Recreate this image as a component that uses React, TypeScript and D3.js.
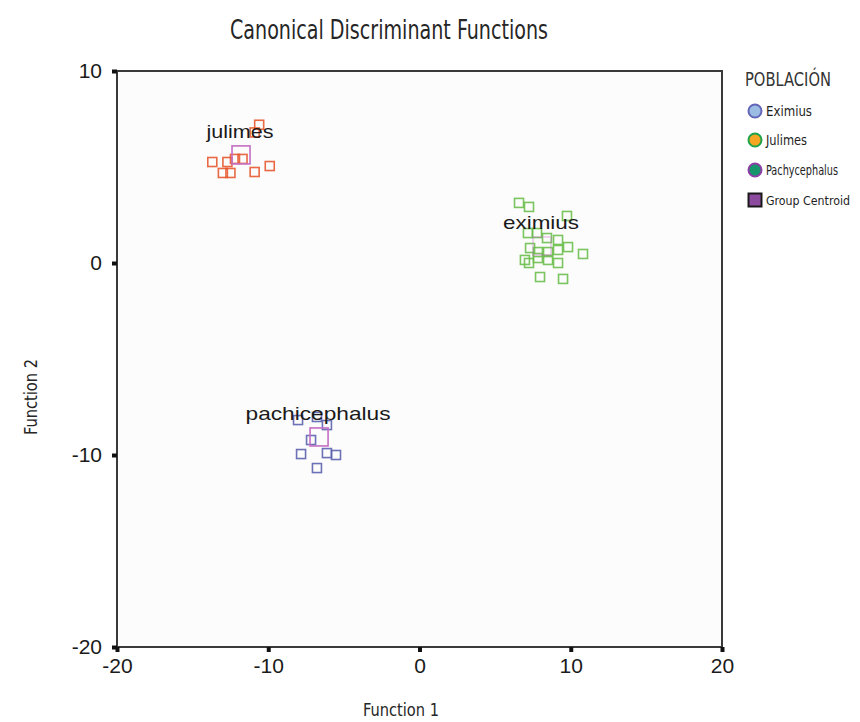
import { useEffect, useRef } from "react";
import * as d3 from "d3";

// ── data ─────────────────────────────────────────────────
const julimesX = [-10.6, -10.9, -13.7, -12.7, -12.2, -11.7, -13.0, -12.5, -10.9, -9.9];
const julimesY = [7.2, 6.8, 5.26, 5.26, 5.42, 5.42, 4.69, 4.69, 4.74, 5.05];
const eximiusX = [6.58, 7.24, 9.75, 7.17, 7.77, 8.43, 9.16, 9.82, 10.81, 7.31, 7.83, 8.5, 9.16, 6.97, 7.24, 7.83, 8.5, 9.16, 7.97, 9.49];
const eximiusY = [3.13, 2.92, 2.45, 1.56, 1.56, 1.3, 1.2, 0.83, 0.47, 0.78, 0.57, 0.57, 0.68, 0.16, 0.0, 0.26, 0.16, 0.0, -0.73, -0.83];
const pachiX = [-8.03, -6.78, -6.12, -7.17, -7.83, -6.12, -5.52, -6.78];
const pachiY = [-8.18, -8.02, -8.44, -9.22, -9.95, -9.9, -10.0, -10.68];

const groupNames = ["julimes", "eximius", "pachicephalus"];
const centroidX = [-11.8, 8.1, -6.64];
const centroidY = [5.63, 0.89, -9.06];
const groupColors = ["#e5592f", "#6cbf4e", "#5d62ad"];

const ticksX = [-20, -10, 0, 10, 20];
const ticksY = [10, 0, -10, -20];

const legendLabels = ["Eximius", "Julimes", "Pachycephalus", "Group Centroid"];

const COND = "'DejaVu Sans Condensed', sans-serif";
const SANS = "'Liberation Sans', Arial, sans-serif";

export default function App() {
  const ref = useRef<SVGSVGElement>(null);

  useEffect(() => {
    if (!ref.current) return;
    const svg = d3.select(ref.current);
    svg.selectAll("*").remove();

    const x = d3.scaleLinear().domain([-20, 20]).range([117, 722]);
    const y = d3.scaleLinear().domain([-20, 10]).range([647, 71]);

    svg.append("rect").attr("width", 860).attr("height", 722).attr("fill", "#ffffff");
    svg.append("rect")
      .attr("x", x(-20)).attr("y", y(10))
      .attr("width", x(20) - x(-20)).attr("height", y(-20) - y(10))
      .attr("fill", "#fcfcfc");

    // title
    svg.append("text")
      .attr("x", 389).attr("y", 39)
      .attr("text-anchor", "middle")
      .attr("font-family", COND).attr("font-size", 27)
      .attr("fill", "#262626")
      .attr("textLength", 318).attr("lengthAdjust", "spacingAndGlyphs")
      .text("Canonical Discriminant Functions");

    // points
    const groups = [
      { xs: julimesX, ys: julimesY },
      { xs: eximiusX, ys: eximiusY },
      { xs: pachiX, ys: pachiY },
    ];
    groups.forEach((grp, gi) => {
      svg.append("g").selectAll("rect")
        .data(grp.xs.map((v, i) => [v, grp.ys[i]]))
        .enter().append("rect")
        .attr("x", d => x(d[0]) - 4.5).attr("y", d => y(d[1]) - 4.5)
        .attr("width", 9).attr("height", 9)
        .attr("fill", "none")
        .attr("stroke", groupColors[gi])
        .attr("stroke-width", 1.6)
        .attr("opacity", 0.9);
    });

    // centroids
    svg.append("g").selectAll("rect")
      .data(centroidX.map((v, i) => [v, centroidY[i]]))
      .enter().append("rect")
      .attr("x", d => x(d[0]) - 9).attr("y", d => y(d[1]) - 9)
      .attr("width", 18).attr("height", 18)
      .attr("fill", "none")
      .attr("stroke", "#c46ec4")
      .attr("stroke-width", 1.6)
      .attr("opacity", (_, i) => (i === 1 ? 0.35 : 1));

    // group labels
    const labelW = [67, 76, 145];
    svg.append("g").selectAll("text")
      .data(groupNames)
      .enter().append("text")
      .attr("x", (_, i) => x(centroidX[i]) - 1)
      .attr("y", (_, i) => y(centroidY[i]) - 17)
      .attr("text-anchor", "middle")
      .attr("font-family", SANS).attr("font-size", 19)
      .attr("fill", "#1a1a1a")
      .attr("textLength", (_, i) => labelW[i]).attr("lengthAdjust", "spacingAndGlyphs")
      .text(d => d);

    // frame
    svg.append("rect")
      .attr("x", x(-20)).attr("y", y(10))
      .attr("width", x(20) - x(-20)).attr("height", y(-20) - y(10))
      .attr("fill", "none").attr("stroke", "#3a3a3a").attr("stroke-width", 2);

    // x axis
    const ax = svg.append("g").attr("transform", `translate(0,${y(-20)})`)
      .call(d3.axisBottom(x).tickValues(ticksX).tickSize(5).tickPadding(6).tickFormat(d => String(d)));
    ax.select(".domain").remove();
    ax.selectAll(".tick line").attr("stroke", "#111").attr("stroke-width", 4);
    ax.selectAll(".tick text").attr("font-family", SANS).attr("font-size", 21).attr("fill", "#1a1a1a");

    // y axis
    const ay = svg.append("g").attr("transform", `translate(${x(-20)},0)`)
      .call(d3.axisLeft(y).tickValues(ticksY).tickSize(5).tickPadding(10).tickFormat(d => String(d)));
    ay.select(".domain").remove();
    ay.selectAll(".tick line").attr("stroke", "#111").attr("stroke-width", 4);
    ay.selectAll(".tick text").attr("font-family", SANS).attr("font-size", 21).attr("fill", "#1a1a1a");

    // axis titles
    svg.append("text")
      .attr("x", 401).attr("y", 716)
      .attr("text-anchor", "middle")
      .attr("font-family", COND).attr("font-size", 18).attr("fill", "#262626")
      .attr("textLength", 76).attr("lengthAdjust", "spacingAndGlyphs")
      .text("Function 1");
    svg.append("text")
      .attr("transform", "translate(37,397) rotate(-90)")
      .attr("text-anchor", "middle")
      .attr("font-family", COND).attr("font-size", 18).attr("fill", "#262626")
      .attr("textLength", 76).attr("lengthAdjust", "spacingAndGlyphs")
      .text("Function 2");

    // legend
    const lg = svg.append("g");
    lg.append("text")
      .attr("x", 745).attr("y", 86)
      .attr("font-family", COND).attr("font-size", 20).attr("fill", "#333")
      .attr("textLength", 86).attr("lengthAdjust", "spacingAndGlyphs")
      .text("POBLACIÓN");
    const fills = ["#9cbde3", "#f6a623", "#16966a"];
    const strokes = ["#6366b8", "#1fa34a", "#8d3fa6"];
    const rowY = [111, 140, 170, 200];
    const textW = [46, 41, 72, 84];
    const textSize = [14, 14, 14, 12.2];
    legendLabels.forEach((lab, i) => {
      if (i < 3) {
        lg.append("circle")
          .attr("cx", 755).attr("cy", rowY[i]).attr("r", 6.5)
          .attr("fill", fills[i]).attr("stroke", strokes[i]).attr("stroke-width", 2);
      } else {
        lg.append("rect")
          .attr("x", 748.5).attr("y", rowY[i] - 6.5).attr("width", 13).attr("height", 13)
          .attr("fill", "#8c4b9e").attr("stroke", "#1a1a1a").attr("stroke-width", 2);
      }
      lg.append("text")
        .attr("x", 766).attr("y", rowY[i] + 5)
        .attr("font-family", COND).attr("font-size", textSize[i]).attr("fill", "#1e1e1e")
        .attr("textLength", textW[i]).attr("lengthAdjust", "spacingAndGlyphs")
        .text(lab);
    });
  }, []);

  return (
    <svg
      ref={ref}
      width={860}
      height={722}
      style={{ position: "absolute", left: 0, top: 0, display: "block" }}
    />
  );
}
